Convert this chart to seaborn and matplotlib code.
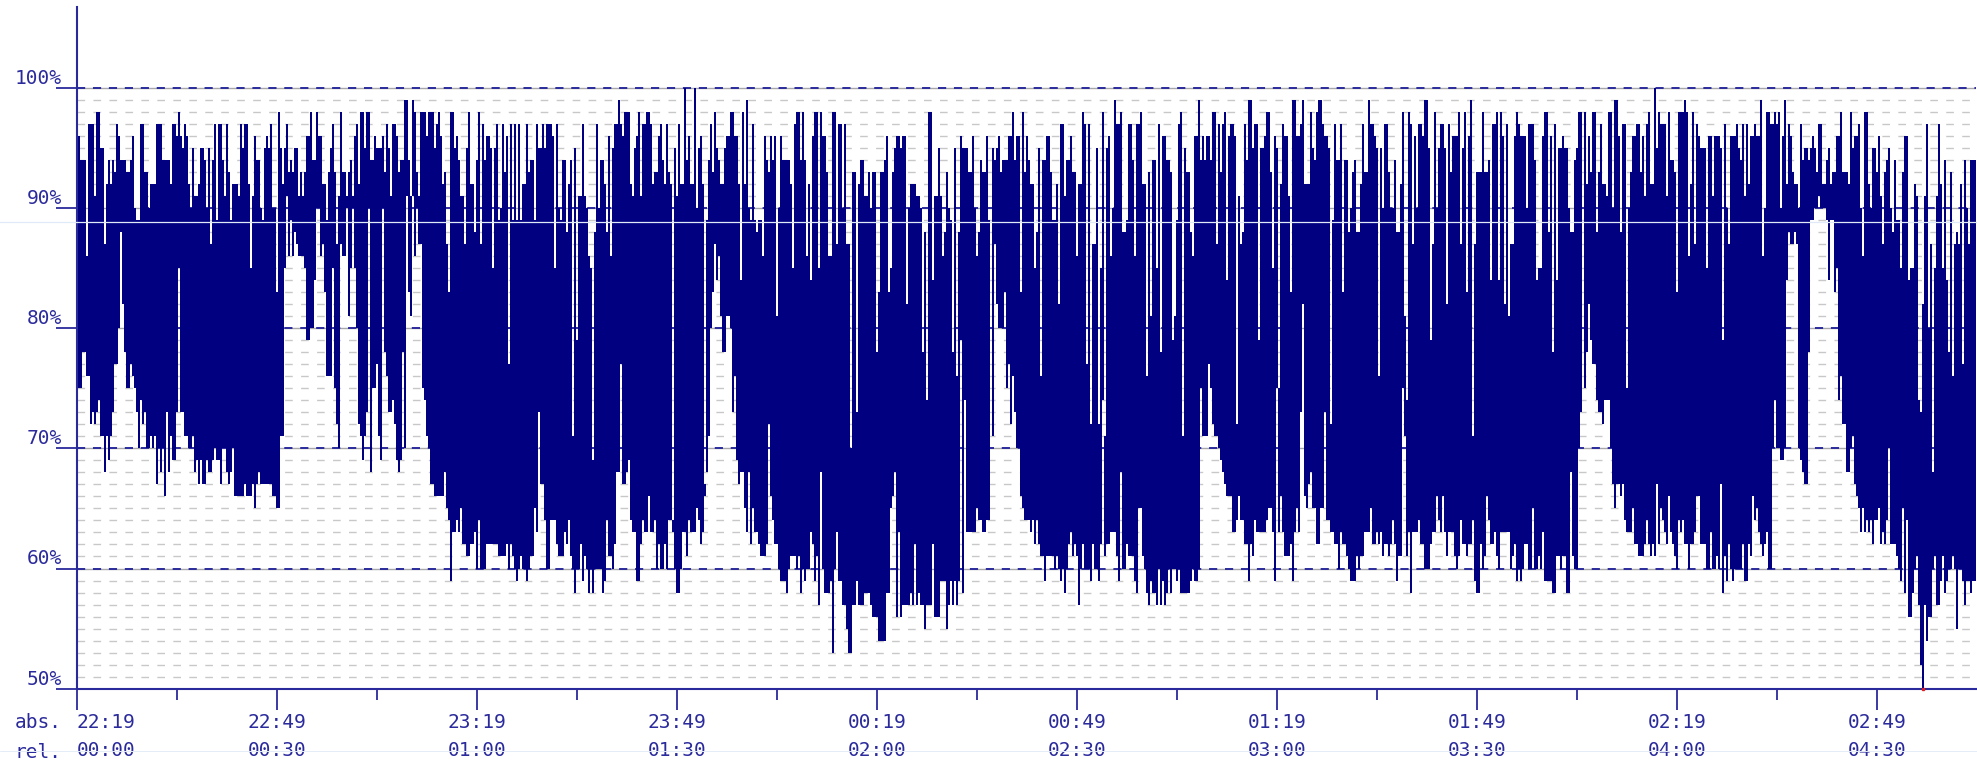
import matplotlib
matplotlib.use("Agg")
import matplotlib.pyplot as plt
from matplotlib.lines import Line2D
import numpy as np
import pandas as pd
import seaborn as sns

# one column = 18 s (0.3 min), values are %
hi_1 = [96,96,94,94,94,86,97,97,97,91,
        98,98,95,95,87,92,94,92,94,93,
        97,96,94,94,94,93,93,94,96,90,
        89,89,97,97,93,93,90,92,92,92,
        97,97,97,94,94,94,94,92,97,97,
        96,98,96,95,97,96,92,90,95,91,
        91,92,95,95,94,90,95,87,94,97,
        89,97,97,94,91,97,93,89,92,92,
        92,91,97,95,97,97,92,85,91,96,
        94,94,90,89,95,96,95,97,90,90,
        83,98,95,92,95,97,93,94,93,95,
        95,91,93,91,93,96,96]
lo_1 = [79,75,75,78,78,76,76,72,73,72,
        73,74,71,71,68,71,69,71,73,77,
        77,80,88,82,78,75,75,77,76,75,
        73,70,74,72,73,70,70,71,70,71,
        67,70,68,70,66,73,68,71,69,69,
        73,85,73,73,71,71,70,70,71,68,
        69,67,69,67,67,69,68,68,69,70,
        69,69,67,70,70,68,67,68,70,66,
        66,66,66,66,67,66,66,66,67,65,
        67,68,67,67,67,67,67,67,66,66,
        65,65,71,71,85,91,86,89,86,88,
        87,86,86,86,85,79,79]

hi_2 = [98,94,94,98,96,96,92,92,89,93,
        95,97,93,87,91,98,93,93,91,93,
        94,91,96,97,92,98,98,95,98,98,
        94,94,96,95,95,95,96,93,97,95,
        91,97,97,96,93,94,94,99,99,94,
        91,99,98,93,91,98,98,98,96,98,
        98,98,95,97,98,96,92,93,87,83,
        98,98,95,96,94,91,91,87,95,98,
        92,92,88,94,98,87,97,94,96,96,
        95,85,95,97,89,90,97,93,96,77,
        97,89,97,89,97,89,92,92,97,93,
        94,94,89,97,95,95,97,95,97,97]
lo_2 = [80,80,84,90,90,86,87,83,76,76,
        76,85,75,72,70,87,86,86,90,81,
        85,90,85,80,72,71,69,71,73,90,
        68,75,75,77,71,69,90,78,76,73,
        73,74,72,69,68,69,78,70,91,83,
        81,91,86,90,87,87,75,74,71,70,
        67,67,66,66,66,66,66,68,65,64,
        59,63,63,64,63,65,62,62,61,61,
        62,62,63,60,64,60,60,60,62,62,
        62,62,62,62,61,61,61,61,62,60,
        62,61,60,59,60,61,60,60,59,60,
        61,61,65,63,73,67,67,64,60,60]

hi_3 = [97,96,85,97,90,89,94,94,88,92,
        94,71,95,79,91,91,97,91,90,86,
        85,69,88,97,90,94,94,92,88,96,
        86,95,97,97,99,97,96,98,98,98,
        92,91,95,96,98,91,97,97,98,98,
        97,92,93,93,96,97,94,92,97,93,
        92,64,95,91,97,92,92,100,94,96,
        92,92,100,90,95,96,92,67,89,94,
        97,93,98,95,94,92,92,95,96,96,
        98,98,96,96,92,84,98,92,99,90,
        89,97,89,88,89,89,86,96,94,93,
        96,94,96,81,90,96,94,94,94,94]
lo_3 = [64,64,64,62,61,61,61,63,62,64,
        61,60,58,60,60,62,59,61,60,58,
        60,58,60,60,60,60,58,59,64,61,
        61,60,62,68,68,77,67,67,68,69,
        64,63,63,59,59,62,64,63,63,66,
        63,63,64,60,62,60,60,62,60,64,
        64,63,60,58,58,60,63,63,61,64,
        63,63,63,65,64,62,63,66,68,71,
        80,83,87,84,86,81,78,78,81,81,
        80,73,76,69,67,68,68,65,63,68,
        62,65,63,63,62,61,61,61,62,72,
        66,64,62,62,60,59,59,59,58,60]

hi_4 = [92,85,97,98,98,94,98,94,86,92,
        84,96,98,98,85,98,96,96,93,86,
        86,98,98,87,97,97,90,97,87,87,
        70,93,93,73,92,94,94,91,91,93,
        90,93,93,78,83,93,93,94,96,83,
        85,93,95,96,96,95,96,96,82,90,
        92,92,92,91,91,90,78,88,74,98,
        98,84,91,91,95,91,86,88,93,90,
        89,78,95,76,88,96,95,95,95,93,
        93,96,90,86,88,94,93,93,96,89,
        71,95,94,95,96,93,94,94,94,96,
        96,98,94,96,96,83,98,93,96,94]
lo_4 = [61,61,61,60,61,58,60,59,60,60,
        63,62,59,61,57,68,60,58,58,58,
        59,53,60,63,59,59,57,57,55,53,
        53,57,57,59,57,57,57,58,58,58,
        57,56,56,56,54,54,54,54,58,58,
        65,66,68,56,63,56,57,57,57,57,
        58,57,62,57,58,57,57,55,57,57,
        57,62,56,56,56,59,59,59,55,57,
        59,57,59,57,59,79,58,74,63,63,
        63,63,63,65,64,64,63,63,64,64,
        71,71,87,82,80,80,80,83,75,77,
        72,76,73,70,70,66,65,64,64,64]

hi_5 = [92,92,85,88,95,76,94,94,96,96,
        93,89,89,92,82,97,97,91,94,94,
        96,93,93,86,92,92,98,97,77,97,
        72,87,87,95,72,85,98,71,95,96,
        86,90,99,97,97,98,88,88,89,97,
        97,94,86,97,97,98,92,92,76,93,
        81,94,94,85,97,78,96,96,94,94,
        93,79,81,89,97,98,71,95,93,93,
        88,86,96,96,99,94,96,94,96,96,
        94,98,98,87,97,93,97,98,84,96,
        97,97,96,72,91,87,88,97,94,99,
        99,95,97,97,79,95,95,96,98,98]
lo_5 = [63,64,62,64,62,61,61,59,61,61,
        61,61,60,61,60,59,60,58,60,62,
        63,61,62,61,57,60,62,60,60,60,
        59,62,60,60,59,62,74,61,62,62,
        63,63,63,61,59,68,60,60,62,61,
        61,61,59,58,65,65,61,60,58,57,
        59,58,58,57,60,57,59,57,58,60,
        58,60,60,59,60,58,58,58,58,58,
        59,60,59,59,60,75,71,71,71,77,
        75,72,71,71,70,69,68,67,66,66,
        66,63,63,64,66,64,64,62,62,59,
        62,61,64,63,63,63,63,63,64,65]

hi_6 = [93,85,96,95,75,92,97,96,96,91,
        83,99,99,96,96,97,99,92,92,92,
        98,95,94,98,99,99,97,96,96,95,
        72,89,97,94,94,97,83,94,94,88,
        90,93,94,88,88,92,97,93,93,99,
        97,97,96,95,76,95,90,97,97,93,
        90,90,94,88,88,92,98,81,74,98,
        97,87,96,90,97,97,96,99,99,95,
        79,87,98,90,95,97,97,95,82,97,
        93,96,96,96,98,87,95,98,83,96,
        99,71,87,93,93,93,98,93,93,94,
        84,97,97,98,84,98,96,82,97,81]
lo_6 = [65,63,59,75,63,66,63,61,61,61,
        62,59,63,65,63,73,82,66,65,67,
        68,65,65,62,62,65,65,73,64,64,
        63,63,62,62,60,63,62,62,61,60,
        59,59,59,61,60,61,61,63,63,63,
        65,62,62,63,62,63,61,62,62,61,
        62,64,62,59,61,61,75,71,61,63,
        58,63,63,63,64,62,62,60,60,60,
        62,63,63,66,64,63,66,63,61,63,
        63,63,61,60,61,64,62,62,61,62,
        62,64,59,58,58,62,60,61,66,64,
        62,62,63,61,60,63,63,63,63,63]

hi_7 = [87,87,96,98,97,96,96,96,90,97,
        97,97,94,84,85,85,96,98,98,88,
        96,78,97,84,95,95,96,95,95,90,
        88,88,94,95,98,98,86,98,92,96,
        93,98,98,88,93,97,92,92,91,98,
        98,90,99,99,96,88,97,97,75,90,
        93,96,96,97,97,93,96,91,97,98,
        92,92,100,95,98,97,97,97,91,98,
        94,94,93,83,98,98,98,99,98,86,
        92,98,87,97,96,95,95,95,85,96,
        96,91,96,96,96,95,79,97,90,87,
        96,96,96,97,95,94,97,91,97,92]
lo_7 = [60,61,62,59,60,59,60,62,62,60,
        60,65,60,60,61,60,63,59,59,59,
        59,58,58,61,61,60,61,61,58,58,
        68,61,60,60,70,73,86,75,78,82,
        79,77,77,74,73,73,72,74,74,74,
        70,67,65,67,67,66,67,64,63,63,
        63,65,62,62,61,61,61,62,64,62,
        61,62,61,67,62,65,64,63,62,66,
        63,62,61,60,64,63,64,62,62,60,
        62,62,63,66,66,62,62,62,60,60,
        63,60,60,61,60,67,58,61,59,62,
        60,59,60,60,60,60,62,59,59,62]

hi_8 = [96,96,97,96,96,99,86,90,98,98,
        97,97,98,97,98,90,96,99,92,97,
        96,93,92,92,90,97,94,95,95,94,
        95,96,95,93,97,97,92,92,94,95,
        92,93,93,96,96,98,93,93,93,92,
        98,95,96,96,97,90,86,98,98,92,
        90,95,95,93,96,91,87,93,94,95,
        90,88,94,89,89,85,93,96,96,84,
        85,85,92,91,74,73,82,91,97,80,
        87,68,85,91,97,92,85,94,84,78,
        93,76,87,88,87,92,77,94,90,87,
        94,94,94]
lo_8 = [61,66,64,65,63,62,61,62,63,60,
        60,70,74,70,70,69,69,70,84,88,
        87,87,88,87,70,69,68,67,67,78,
        89,89,90,90,91,90,90,90,89,84,
        89,89,83,85,74,76,72,72,68,68,
        70,71,67,66,65,63,65,63,64,63,
        64,62,64,64,65,62,63,62,64,70,
        62,62,62,61,60,59,65,58,64,56,
        56,58,60,61,57,52,50,57,54,56,
        56,60,61,57,57,59,61,58,59,60,
        60,61,60,55,60,60,59,57,59,59,
        58,59,59]

abs_labels = ["22:19","22:49","23:19","23:49","00:19","00:49","01:19","01:49","02:19","02:49"]
rel_labels = ["00:00","00:30","01:00","01:30","02:00","02:30","03:00","03:30","04:00","04:30"]
y_labels = ["50%","60%","70%","80%","90%","100%"]

NAVY = "#000080"
BLUE = "#2a2a9c"
W, H = 1977, 763

hi = np.array(hi_1+hi_2+hi_3+hi_4+hi_5+hi_6+hi_7+hi_8, dtype=float)
lo = np.array(lo_1+lo_2+lo_3+lo_4+lo_5+lo_6+lo_7+lo_8, dtype=float)
df = pd.DataFrame({"minute": np.arange(len(hi)) * 0.3, "span": hi - lo, "lo": lo})

sns.set_style("white")
plt.rcParams["font.family"] = ["DejaVu Sans Mono"]

fig = plt.figure(figsize=(W/100, H/100), dpi=100)
ax = fig.add_axes([77/W, (H-688.6)/H, 1899/W, 681.6/H])

sns.barplot(data=df, x="minute", y="span", bottom=df["lo"].values, native_scale=True,
            color=NAVY, saturation=1, width=1, linewidth=0, antialiased=False,
            errorbar=None, ax=ax, zorder=3)

ax.set_xlim(0, 284.85)
ax.set_ylim(50, 50 + 681.6/12.01)
ax.set_xlabel("")
ax.set_ylabel("")

# grid, 1% steps grey dashes, 10% grey with blue dashes on top
for v in range(51, 100):
    if v % 10:
        ax.axhline(v, color="#c8c8c8", lw=1.0, dashes=(5.5, 6), zorder=1)
for v in range(60, 101, 10):
    ax.axhline(v, color="#a8a8a8", lw=1.0, zorder=1)
    ax.axhline(v, color=BLUE, lw=1.4, dashes=(4.2, 4), zorder=2)

ax.set_yticks(range(50, 101, 10), y_labels)
ax.tick_params(axis="y", left=True, length=15, width=1.3, color=BLUE, labelcolor=BLUE,
               labelsize=14, pad=-4.2)
for t in ax.get_yticklabels():
    t.set_va("bottom")

x_major = np.arange(0, 271, 30)
ax.set_xticks(x_major, [a + "\n" + r for a, r in zip(abs_labels, rel_labels)])
ax.set_xticks(np.arange(15, 285, 30), minor=True)
ax.tick_params(axis="x", which="major", bottom=True, length=15, width=1.3, color=BLUE,
               labelcolor=BLUE, labelsize=14, pad=2.5)
ax.tick_params(axis="x", which="minor", bottom=True, length=8, width=1.3, color=BLUE)
for t in ax.get_xticklabels():
    t.set_linespacing(1.6)
ax.get_xticklabels()[0].set_ha("left")

sns.despine(ax=ax, top=True, right=True)
for side in ["left", "bottom"]:
    ax.spines[side].set_color(BLUE)
    ax.spines[side].set_linewidth(1.5)
    ax.spines[side].set_zorder(5)

# little red mark where the lowest column touches the axis
ax.plot(df["minute"][lo.argmin()], 50, "s", color="#e02020", ms=1.5, clip_on=False, zorder=6)

fig.text(15/W, 1 - 723/H, "abs.", color=BLUE, fontsize=14, va="center")
fig.text(15/W, 1 - 752/H, "rel.", color=BLUE, fontsize=14, va="center")

# thin pale scan lines across the whole image
fig.add_artist(Line2D([0, 1], [1 - 221.8/H]*2, color="#dfe9f7", lw=0.9, zorder=10))
fig.add_artist(Line2D([0, 1], [1 - 751/H]*2, color="#e4ecf7", lw=0.7, zorder=10))

fig.savefig("out.png", dpi=100)
